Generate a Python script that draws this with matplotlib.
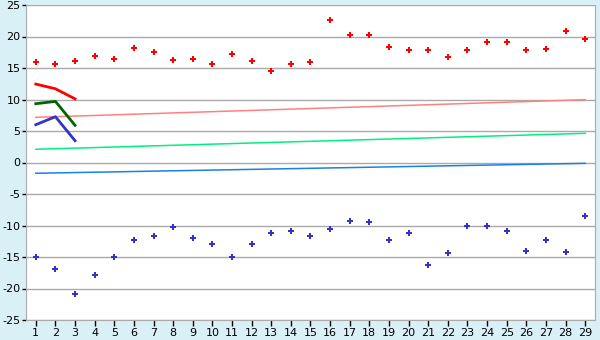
import matplotlib
matplotlib.use("Agg")
import matplotlib.pyplot as plt

plt.rcParams["axes.unicode_minus"] = False

DAYS = list(range(1, 30))
HIGHS = [15.9, 15.6, 16.1, 16.9, 16.4, 18.1, 17.6, 16.2, 16.5, 15.6,
         17.2, 16.1, 14.6, 15.6, 15.9, 22.6, 20.2, 20.3, 18.3, 17.8,
         17.8, 16.7, 17.8, 19.1, 19.1, 17.8, 18.0, 20.8, 19.6]
LOWS = [-15.0, -16.95, -20.9, -17.9, -15.0, -12.35, -11.7, -10.3, -12.0, -13.0,
        -15.0, -13.0, -11.2, -10.8, -11.7, -10.6, -9.3, -9.5, -12.35, -11.2,
        -16.2, -14.4, -10.0, -10.1, -10.9, -14.1, -12.35, -14.25, -8.5]

# trend lines (start / end)
TREND_X = [1, 29]
TREND_HIGH = [7.17, 9.97]
TREND_MID = [2.1, 4.63]
TREND_LOW = [-1.71, -0.13]

# short series over the first three days
SHORT_X = [1, 2, 3]
SHORT_RED = [12.45, 11.7, 10.1]
SHORT_GREEN = [9.33, 9.7, 5.9]
SHORT_BLUE = [6.0, 7.27, 3.46]

BG = "#daf0f7"
GRID = "#aaaaaa"


def main():
    fig = plt.figure(figsize=(6, 3.4), dpi=100, facecolor=BG)
    ax = fig.add_axes([26 / 600, 20 / 340, 569 / 600, 315 / 340])
    ax.set_facecolor("white")

    ax.plot(TREND_X, TREND_HIGH, color="#ff8080", lw=1.1)
    ax.plot(TREND_X, TREND_MID, color="#00f080", lw=1.1)
    ax.plot(TREND_X, TREND_LOW, color="#1a80e6", lw=1.1)

    ax.plot(SHORT_X, SHORT_RED, color="#ff0000", lw=2)
    ax.plot(SHORT_X, SHORT_GREEN, color="#006600", lw=2)
    ax.plot(SHORT_X, SHORT_BLUE, color="#3333cc", lw=2)

    ax.plot(DAYS, HIGHS, ls="none", marker="P", ms=4.8, color="#ff0000", mew=0)
    ax.plot(DAYS, LOWS, ls="none", marker="P", ms=4.8, color="#3333cc", mew=0)

    ax.set_xlim(0.5, 29.5)
    ax.set_ylim(-25, 25)
    ax.set_xticks(DAYS)
    ax.set_yticks(range(-25, 26, 5))
    ax.yaxis.grid(True, color=GRID, lw=1)
    ax.set_axisbelow(True)
    for s in ax.spines.values():
        s.set_color(GRID)
    ax.spines["top"].set_visible(False)
    ax.tick_params(axis="both", colors="black", labelsize=8, length=4,
                   width=1, direction="out")
    ax.tick_params(axis="x", pad=2)
    ax.tick_params(axis="y", pad=1, length=3)

    fig.savefig("out.png", dpi=100, facecolor=BG)


if __name__ == "__main__":
    main()
